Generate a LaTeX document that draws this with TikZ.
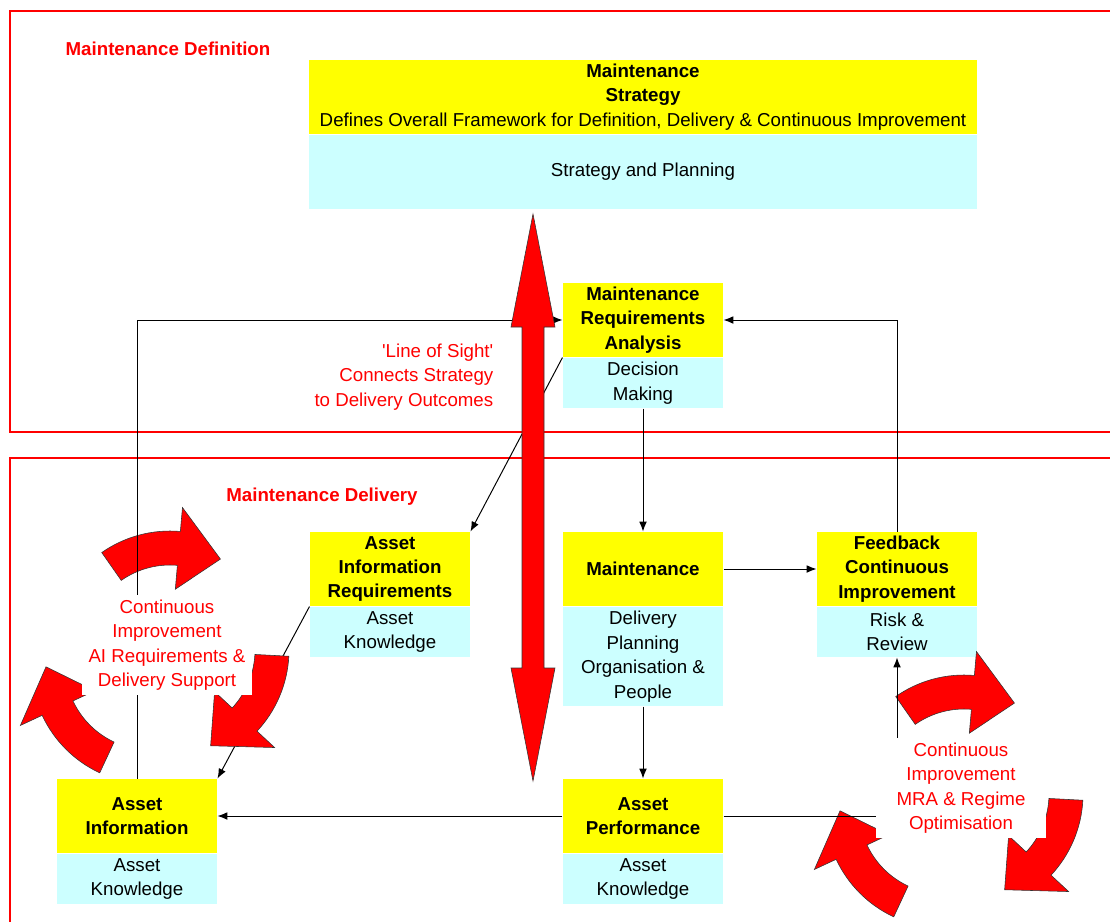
\documentclass[tikz,border=0pt]{standalone}
\usepackage{fontspec}
\setmainfont{Liberation Sans}
\usetikzlibrary{positioning,arrows.meta}
\definecolor{boxyellow}{RGB}{255,255,0}
\definecolor{boxcyan}{RGB}{204,255,255}
\tikzset{
    headnode/.style={
        fill=boxyellow,minimum width=4cm,minimum height=1.85cm,align=center,font=\bfseries,inner sep=0pt
    },
    infonode/.style={
        fill=boxcyan,minimum width=4cm,minimum height=1.25cm,align=center,inner sep=0pt
    },
    framebox/.style={
        draw=red,line width=1.5pt
    },
    redlabel/.style={
        text=red,align=center
    },
    cyclenote/.style={
        text=red,fill=white,align=center,minimum width=4.25cm,inner xsep=2pt,inner ysep=3pt
    },
    redshape/.style={
        fill=red,draw=black!80,line width=.4pt
    },
    pics/cyclearrow/.style={
        code={\filldraw[redshape,y=.025cm,rotate=#1] (40:119) arc[start angle=40,end angle=0,radius=119] -- (0:143) -- (-24:104) -- (0:61) -- (0:85) arc[start angle=0,end angle=40,radius=85] -- cycle;}
    }
}

\begin{document}
\fontsize{13.3}{17.4}\selectfont
\begin{tikzpicture}[x=.025cm,y=-.025cm,>={Latex[length=7pt,width=5.5pt]},line width=.7pt]
\clip (0,0) rectangle (1110,921);
\useasboundingbox (0,0) rectangle (1110,921);
\draw[framebox] (10,11) rectangle (1125,432);
\draw[framebox] (10,458) rectangle (1125,935);
\node[redlabel,font=\bfseries] (defl) at (168,49) {Maintenance Definition};
\node[redlabel,font=\bfseries] (dell) at (322,497) {Maintenance Delivery};
\node[redlabel,align=right,anchor=east] (los) at (500,377) {\textquotesingle Line of Sight\textquotesingle\\Connects Strategy\\to Delivery Outcomes};
\node[headnode,minimum width=16.675cm] (strat) at (643,97) {Maintenance\\Strategy\\{\mdseries Defines Overall Framework for Definition, Delivery \& Continuous Improvement}};
\node[infonode,below=0pt of strat,minimum width=16.675cm,minimum height=1.85cm] (stratb) {Strategy and Planning};
\node[headnode] (mra) at (643,320) {Maintenance\\Requirements\\Analysis};
\node[infonode,below=0pt of mra] (mrab) {Decision\\Making};
\node[headnode] (air) at (390,569) {Asset\\Information\\Requirements};
\node[infonode,below=0pt of air] (airb) {Asset\\Knowledge};
\node[headnode] (maint) at (643,569) {Maintenance};
\node[infonode,below=0pt of maint,minimum height=2.475cm] (maintb) {Delivery\\Planning\\Organisation \&\\People};
\node[headnode] (fcb) at (897,569) {Feedback\\Continuous\\Improvement};
\node[infonode,below=0pt of fcb] (fcbb) {Risk \&\\Review};
\node[headnode] (ainf) at (137,816) {Asset\\Information};
\node[infonode,below=0pt of ainf] (ainfb) {Asset\\Knowledge};
\node[headnode] (aperf) at (643,816) {Asset\\Performance};
\node[infonode,below=0pt of aperf] (aperfb) {Asset\\Knowledge};
\draw[->] (airb.north west) -- (ainf.north east);
% improvement cycles
\pic at (170,650) {cyclearrow=85};
\pic at (170,650) {cyclearrow=-43};
\pic at (150,665) {cyclearrow=205};
\pic at (964,794) {cyclearrow=85};
\pic at (964,794) {cyclearrow=-43};
\pic at (944,809) {cyclearrow=205};
\draw[->] (ainf.north) |- (mra.west);
\draw[->] (fcb.north) |- (mra.east);
\draw[->] (mrab.south) -- (maint.north);
\draw[->] (mra.south west) -- (air.north east);
\draw[->] (maint.east) -- (fcb.west);
\draw[->] (maintb.south) -- (aperf.north);
\draw[->] (aperf.west) -- (ainf.east);
\draw[->] (aperf.east) -| (fcbb.south);
\node[cyclenote] (ciai) at (167,645) {Continuous\\Improvement\\AI Requirements \&\\Delivery Support};
\node[cyclenote] (cimra) at (961,788) {Continuous\\Improvement\\MRA \& Regime\\Optimisation};
% line of sight
\coordinate (lostop) at (533,214);
\coordinate (losbot) at (533,781);
\filldraw[redshape] (lostop) -- (555,327) -- (544,327) -- (544,668) -- (555,668) -- (losbot) -- (511,668) -- (522,668) -- (522,327) -- (511,327) -- cycle;
\end{tikzpicture}
\end{document}
